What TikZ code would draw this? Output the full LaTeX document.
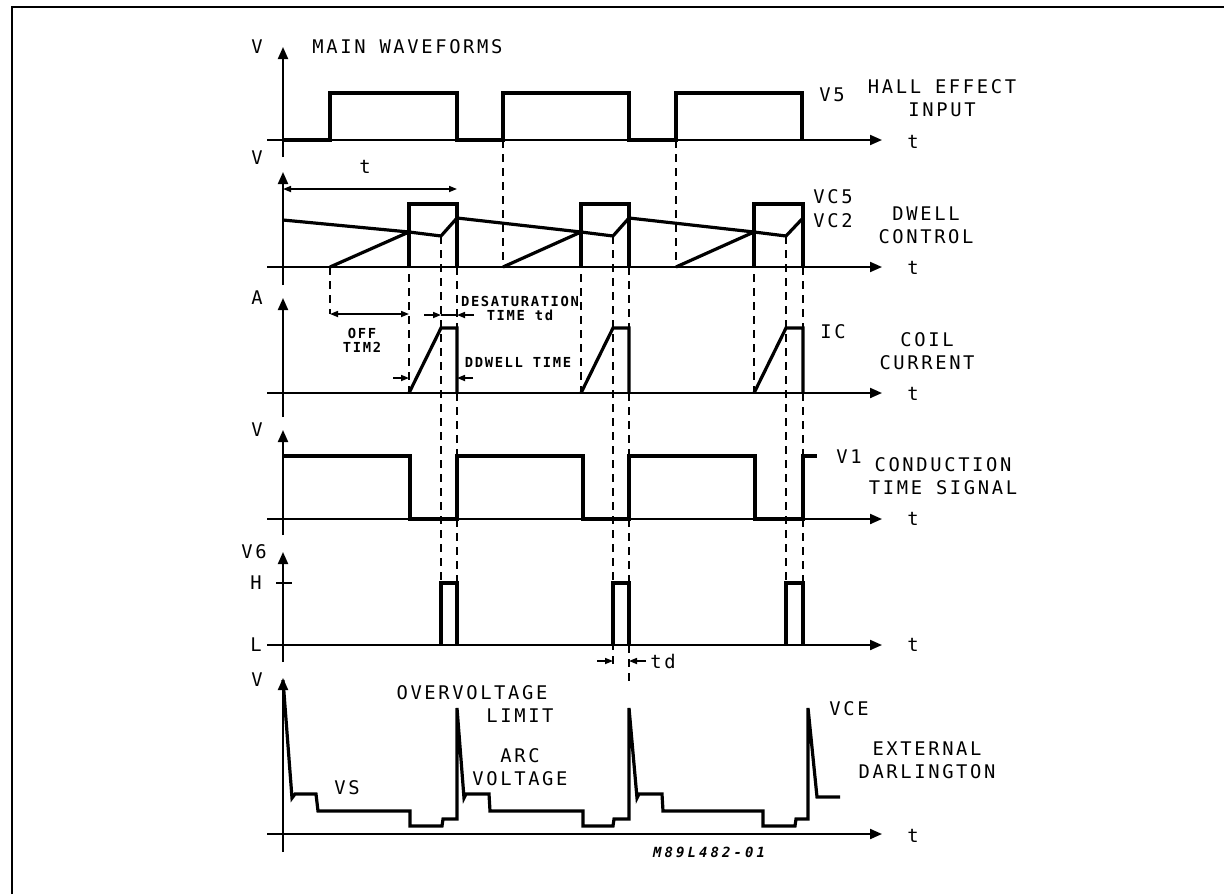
\documentclass[tikz,border=0pt]{standalone}
\usepackage{fontspec}
\usepackage{tikz}
\usetikzlibrary{arrows.meta}
\newfontfamily\plotfont[LetterSpace=14]{DejaVu Sans Mono}
\newfontfamily\notefont[LetterSpace=12]{DejaVu Sans Mono}
\newfontfamily\codefont[LetterSpace=22]{DejaVu Sans Mono}

\begin{document}
\begin{tikzpicture}[x=0.5pt, y=-0.5pt,
    lbl/.style={font=\plotfont\fontsize{9.4}{11.5}\selectfont, inner sep=0pt, align=center},
    note/.style={font=\notefont\bfseries\fontsize{6.9}{7}\selectfont, inner sep=0pt, align=center},
    axis/.style={line width=1pt, -{Triangle[length=6pt,width=5pt]}},
    wave/.style={line width=1.6pt},
    guide/.style={line width=1pt, dash pattern=on 4pt off 3pt},
    dim/.style={line width=0.8pt, -{Triangle[length=4pt,width=3pt]}}]

    \useasboundingbox (0,0) rectangle (1224,894);
    \draw[line width=1.3pt] (12,894) -- (12,7) -- (1224,7);

    \draw[guide] (503,140) -- (503,267);
    \draw[guide] (676,140) -- (676,267);
    \draw[guide] (330,267) -- (330,314);
    \draw[guide] (409,232) -- (409,393);
    \draw[guide] (441,236) -- (441,583);
    \draw[guide] (457,267) -- (457,583);
    \draw[guide] (581,232) -- (581,393);
    \draw[guide] (613,236) -- (613,668);
    \draw[guide] (629,267) -- (629,682);
    \draw[guide] (754,232) -- (754,393);
    \draw[guide] (786,236) -- (786,583);
    \draw[guide] (803,267) -- (803,583);

    \draw[axis] (267,140) -- (882,140);
    \draw[axis] (283,157) -- (283,47);
    \draw[wave] (283,140) -- (330,140) -- (330,93) -- (457,93) -- (457,140) -- (503,140) -- (503,93)
        -- (629,93) -- (629,140) -- (676,140) -- (676,93) -- (802,93) -- (802,140);
    \node[lbl] (v1) at (257,47) {V};
    \node[lbl, anchor=west] (title) at (312,47) {MAIN WAVEFORMS};
    \node[lbl] (vfive) at (832,95) {V5};
    \node[lbl] (hall) at (942,98) {HALL EFFECT\\INPUT};
    \node[lbl] (t1) at (913,142) {t};

    \draw[axis] (267,267) -- (882,267);
    \draw[axis] (283,285) -- (283,172);
    \draw[wave] (409,267) -- (409,204) -- (457,204) -- (457,267);
    \draw[wave] (581,267) -- (581,204) -- (629,204) -- (629,267);
    \draw[wave] (754,267) -- (754,204) -- (803,204) -- (803,267);
    \draw[wave] (283,220) -- (409,232) -- (441,236) -- (457,218) -- (581,232) -- (613,236) -- (629,218)
        -- (754,232) -- (786,236) -- (803,218);
    \draw[wave] (330,267) -- (409,232);
    \draw[wave] (503,267) -- (581,232);
    \draw[wave] (676,267) -- (754,232);
    \draw[dim, {Triangle[length=4pt,width=3pt]}-{Triangle[length=4pt,width=3pt]}] (283,189) -- (457,189);
    \node[lbl] (tperiod) at (365,167) {t};
    \node[lbl] (v2) at (257,158) {V};
    \node[lbl] (vcfive) at (833,197) {VC5};
    \node[lbl] (vctwo) at (833,221) {VC2};
    \node[lbl] (dwell) at (926,225) {DWELL\\CONTROL};
    \node[lbl] (t2) at (913,268) {t};

    \draw[axis] (267,393) -- (882,393);
    \draw[axis] (283,417) -- (283,298);
    \draw[wave] (409,393) -- (441,328) -- (457,328) -- (457,393);
    \draw[wave] (581,393) -- (613,328) -- (629,328) -- (629,393);
    \draw[wave] (754,393) -- (786,328) -- (803,328) -- (803,393);
    \draw[dim, {Triangle[length=4pt,width=3pt]}-{Triangle[length=4pt,width=3pt]}] (330,314) -- (409,314);
    \draw[line width=0.8pt] (441,315) -- (457,315);
    \draw[dim] (424,315) -- (441,315);
    \draw[dim] (474,315) -- (457,315);
    \draw[dim] (393,378) -- (409,378);
    \draw[dim] (473,378) -- (457,378);
    \node[note] (offtime) at (362,340) {OFF\\TIM2};
    \node[note] (desat) at (520,301) {DESATURATION};
    \node[note] (desattd) at (520,315) {TIME td};
    \node[note] (dwelltime) at (518,362) {DDWELL TIME};
    \node[lbl] (a3) at (257,298) {A};
    \node[lbl] (ic) at (833,332) {IC};
    \node[lbl] (coil) at (927,351) {COIL\\CURRENT};
    \node[lbl] (t3) at (913,394) {t};

    \draw[axis] (267,519) -- (882,519);
    \draw[axis] (283,535) -- (283,430);
    \draw[wave] (283,456) -- (410,456) -- (410,519) -- (457,519) -- (457,456) -- (583,456) -- (583,519)
        -- (629,519) -- (629,456) -- (755,456) -- (755,519) -- (803,519) -- (803,456) -- (817,456);
    \node[lbl] (v4) at (257,430) {V};
    \node[lbl] (vone) at (849,457) {V1};
    \node[lbl] (cond) at (943,476) {CONDUCTION\\TIME SIGNAL};
    \node[lbl] (t4) at (913,519) {t};

    \draw[axis] (267,645) -- (882,645);
    \draw[axis] (283,662) -- (283,552);
    \draw[line width=1pt] (276,583) -- (292,583);
    \draw[wave] (441,645) -- (441,583) -- (457,583) -- (457,645);
    \draw[wave] (613,645) -- (613,583) -- (629,583) -- (629,645);
    \draw[wave] (786,645) -- (786,583) -- (803,583) -- (803,645);
    \draw[dim] (597,661) -- (613,661);
    \draw[dim] (646,661) -- (629,661);
    \node[lbl] (vsix) at (254,552) {V6};
    \node[lbl] (high) at (256,583) {H};
    \node[lbl] (low) at (256,645) {L};
    \node[lbl] (td) at (663,661) {td};
    \node[lbl] (t5) at (913,645) {t};

    \draw[axis] (267,834) -- (882,834);
    \draw[axis] (283,852) -- (283,678);
    \draw[wave] (283,680) -- (292,798) -- (295,794) -- (316,794) -- (318,811) -- (410,811) -- (410,826)
        -- (442,826) -- (443,819) -- (457,819) -- (457,708) -- (464,798) -- (466,794) -- (489,794)
        -- (490,811) -- (583,811) -- (583,826) -- (613,826) -- (614,819) -- (629,819) -- (629,708)
        -- (637,798) -- (639,794) -- (662,794) -- (663,811) -- (763,811) -- (763,826) -- (795,826)
        -- (796,819) -- (808,819) -- (808,708) -- (817,797) -- (840,797);
    \node[lbl] (v6) at (257,680) {V};
    \node[lbl] (vs) at (347,788) {VS};
    \node[lbl] (over) at (472,693) {OVERVOLTAGE};
    \node[lbl] (limit) at (520,716) {LIMIT};
    \node[lbl] (arc) at (520,767) {ARC\\VOLTAGE};
    \node[lbl] (vce) at (849,709) {VCE};
    \node[lbl] (ext) at (927,760) {EXTERNAL\\DARLINGTON};
    \node[lbl] (t6) at (913,836) {t};
    \node[font=\codefont\bfseries\itshape\fontsize{7}{8}\selectfont, inner sep=0pt] (code) at (709,852) {M89L482-01};
\end{tikzpicture}
\end{document}
